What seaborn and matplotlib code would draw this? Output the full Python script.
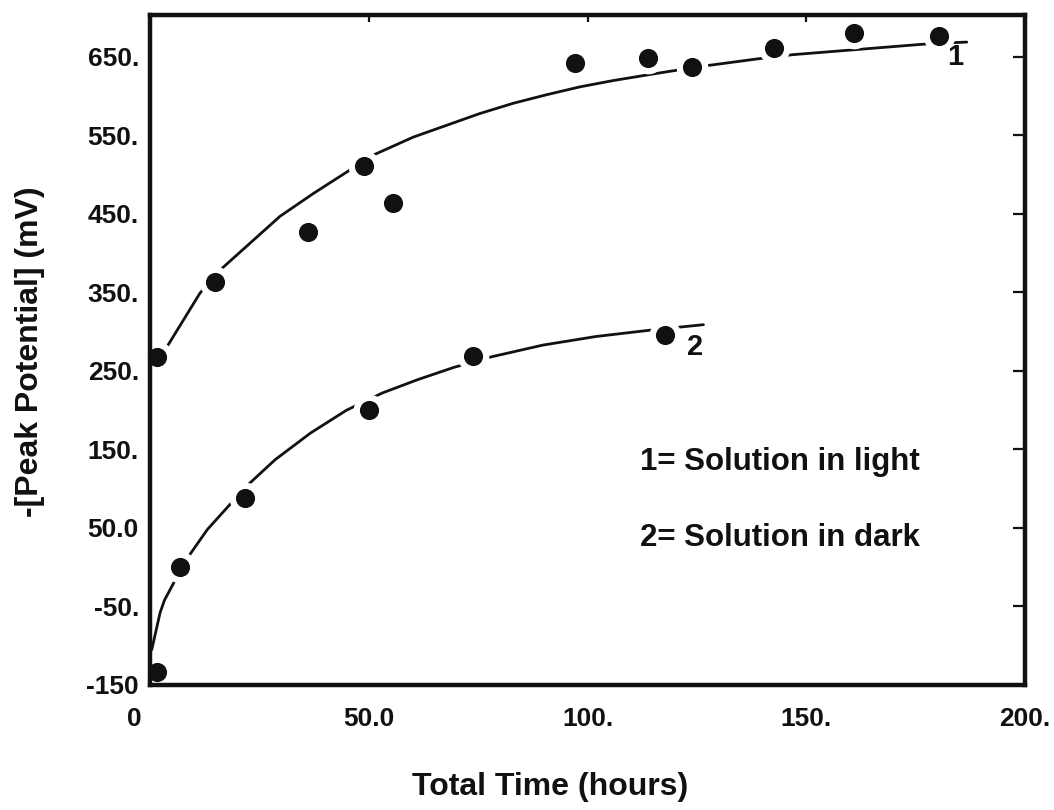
import matplotlib
matplotlib.use("Agg")
import matplotlib.pyplot as plt
import matplotlib.transforms as mtransforms
import pandas as pd
import seaborn as sns

# Measured peak potentials: solution kept in light (series 1)
light_time = [1.6, 14.9, 36.1, 48.9, 55.5, 97.1, 113.8, 123.9, 142.6, 160.9, 180.3]
light_mv = [268, 363, 427, 511, 464, 642, 649, 637, 661, 680, 677]

# Measured peak potentials: solution kept in dark (series 2)
dark_time = [1.6, 6.9, 21.7, 50.0, 73.8, 117.7]
dark_mv = [-133, 0, 88, 200, 269, 296]

# Fitted trend curves
light_fit_time = [2.0, 3.9, 11.4, 16.7, 29.7, 37.3, 51.0, 60.2, 67.8, 75.4,
                  83.0, 90.7, 98.3, 105.9, 113.5, 118.5, 127.3, 139.4, 147.0,
                  178.3, 186.7]
light_fit_mv = [268, 281, 349, 382, 447, 476, 525, 548, 563, 578,
                591, 602, 612, 620, 627, 631.5, 639, 648, 653,
                667, 669]
dark_fit_time = [0.4, 2.3, 3.3, 8.2, 13.1, 22.0, 28.6, 36.7, 44.9, 53.1,
                 61.2, 69.4, 77.6, 89.8, 102.0, 114.3, 126.5]
dark_fit_mv = [-105, -58, -42, 9, 48, 103, 137, 171, 200, 222,
               239, 254.5, 267.5, 283, 294, 302, 309]

x_ticks = [0, 50, 100, 150, 200]
x_tick_labels = ["0", "50.0", "100.", "150.", "200."]
y_ticks = [-150, -50, 50, 150, 250, 350, 450, 550, 650]
y_tick_labels = ["-150", "-50.", "50.0", "150.", "250.", "350.", "450.", "550.", "650."]

legend_lines = ["1= Solution in light", "2= Solution in dark"]

sns.set_theme(style="white")
plt.rcParams["font.family"] = ["Liberation Sans", "DejaVu Sans"]
plt.rcParams["font.weight"] = "bold"

points = pd.concat([
    pd.DataFrame({"t": light_time, "mv": light_mv, "series": "1"}),
    pd.DataFrame({"t": dark_time, "mv": dark_mv, "series": "2"}),
])
fits = pd.concat([
    pd.DataFrame({"t": light_fit_time, "mv": light_fit_mv, "series": "1"}),
    pd.DataFrame({"t": dark_fit_time, "mv": dark_fit_mv, "series": "2"}),
])

fig = plt.figure(figsize=(10.54, 8.10), dpi=100)
ax = fig.add_axes([150 / 1054, 1 - 685 / 810, 875 / 1054, 670 / 810])

ink = "#111111"
sns.lineplot(data=fits, x="t", y="mv", units="series", estimator=None,
             color=ink, linewidth=2.0, sort=False, ax=ax, zorder=2)
# white halo around each dot breaks the curve where it passes
sns.scatterplot(data=points, x="t", y="mv", color="white", s=520,
                linewidth=0, ax=ax, zorder=2.2, legend=False)
sns.scatterplot(data=points, x="t", y="mv", color=ink, s=190,
                linewidth=0, ax=ax, zorder=4, legend=False, clip_on=False)

ax.set_xlim(0, 200)
ax.set_ylim(-150, 703.5)
ax.set_xticks(x_ticks)
ax.set_xticklabels(x_tick_labels)
ax.set_yticks(y_ticks)
ax.set_yticklabels(y_tick_labels)
ax.set_xlabel("")
ax.set_ylabel("")

for side in ["left", "right", "top", "bottom"]:
    ax.spines[side].set_visible(True)
    ax.spines[side].set_linewidth(3.2)
    ax.spines[side].set_color(ink)

ax.tick_params(axis="both", direction="in", colors=ink, width=1.6,
               top=True, right=True, labelsize=19)
ax.tick_params(axis="y", length=9, pad=8)
ax.tick_params(axis="x", length=5, pad=16)
for lab in ax.get_xticklabels() + ax.get_yticklabels():
    lab.set_fontweight("bold")

# nudge the origin label left of the corner
first = ax.get_xticklabels()[0]
first.set_transform(first.get_transform() +
                    mtransforms.ScaledTranslation(-16 / 100, 0, fig.dpi_scale_trans))

ax.text(184, 650, "1", fontsize=21, fontweight="bold", color=ink,
        ha="center", va="center")
ax.text(124.5, 280, "2", fontsize=21, fontweight="bold", color=ink,
        ha="center", va="center")

ax.text(112, 134, legend_lines[0], fontsize=22.5, fontweight="bold",
        color=ink, ha="left", va="center")
ax.text(112, 37, legend_lines[1], fontsize=22.5, fontweight="bold",
        color=ink, ha="left", va="center")

fig.text(550 / 1054, 1 - 787 / 810, "Total Time (hours)", fontsize=23,
         fontweight="bold", color=ink, ha="center", va="center")
fig.text(30 / 1054, 1 - 352 / 810, "-[Peak Potential] (mV)", fontsize=23,
         fontweight="bold", color=ink, ha="center", va="center", rotation=90)

fig.savefig("out.png", dpi=100, facecolor="white")
